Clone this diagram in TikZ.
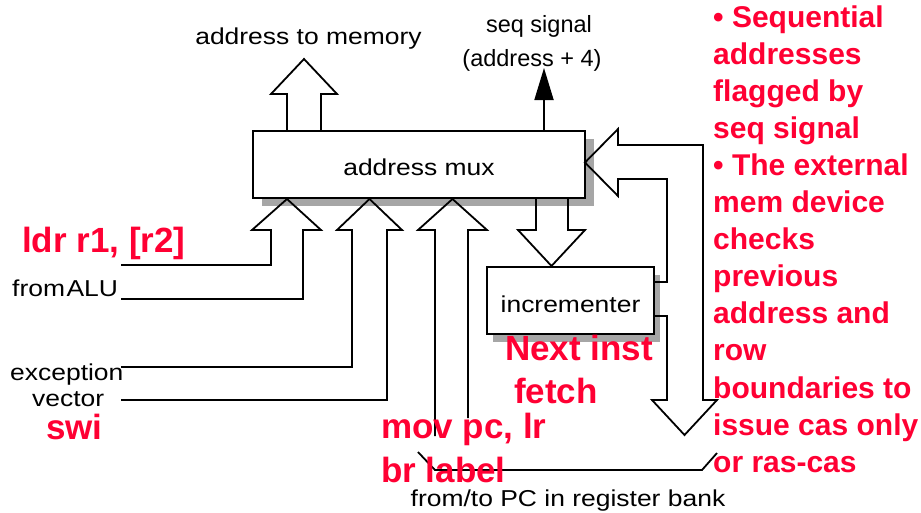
\documentclass[tikz,border=0pt]{standalone}
\usepackage{fontspec}
\setmainfont{Liberation Sans}
\newfontfamily\blkfont[FakeStretch=1.15]{Liberation Sans}
\usetikzlibrary{arrows.meta}
\definecolor{slidered}{RGB}{255,0,51}
\tikzset{
  wire/.style={line width=1.8pt, line join=miter},
  box/.style={draw, line width=1.8pt, fill=white, inner sep=0pt,
    font=\blkfont\fontsize{23}{27}\selectfont, text depth=0pt},
  shadowfill/.style={fill=black!35},
  lbl/.style={inner sep=0pt, font=\blkfont\fontsize{23}{27}\selectfont},
  seqlbl/.style={inner sep=0pt, font=\fontsize{23.5}{27}\selectfont},
  note/.style={inner sep=0pt, text=slidered, font=\bfseries\fontsize{35}{40}\selectfont},
  side/.style={inner sep=0pt, text=slidered, font=\bfseries\fontsize{30}{37}\selectfont},
}
\begin{document}
\begin{tikzpicture}[x=1pt,y=-1pt]
\useasboundingbox (0,0) rectangle (921,512);
% shadows
\fill[shadowfill] (262,139) rectangle (594,206);
\fill[shadowfill] (493,275) rectangle (660,342);
% boxes
\node[box, minimum width=332pt, minimum height=67pt, text height=22.4pt] (mux) at (419,164.5) {address mux};
\node[box, minimum width=167pt, minimum height=67pt, text height=24.4pt] (inc) at (570.5,300.5) {incrementer};
% address to memory (hollow arrow up)
\draw[wire] (287,131) -- (287,94) -- (271,94) -- (304,59) -- (337,94) -- (321,94) -- (321,131);
% seq signal
\draw[line width=1.8pt, -{Triangle[length=32pt,width=19pt]}] (544,131) -- (544,68);
% inputs into the mux
\draw[wire] (121,265) -- (271,265) -- (271,230) -- (252,230) -- (287,199) -- (321,230) -- (303,230) -- (303,299) -- (121,299);
\draw[wire] (121,367) -- (352,367) -- (352,230) -- (337,230) -- (369.5,199) -- (402,230) -- (387,230) -- (387,400) -- (121,400);
\draw[wire] (435,436) -- (435,230) -- (418,230) -- (452.5,199) -- (487,230) -- (468,230) -- (468,418);
% mux to incrementer
\draw[wire] (536,198) -- (536,230) -- (518,230) -- (551.5,266) -- (585,230) -- (568,230) -- (568,198);
% loop on the right
\draw[wire] (654,282) -- (667,282) -- (667,179) -- (618,179) -- (618,196) -- (585,162.5) -- (618,129) -- (618,145) -- (703,145) -- (703,400) -- (717,400) -- (684.5,435) -- (652,400) -- (667,400) -- (667,316) -- (654,316);
% bottom bus
\draw[wire] (418,452) -- (435,470) -- (702,470) -- (717,453);
% black labels
\node[lbl, anchor=base] (lmem) at (308.5,44.3) {address to memory};
\node[seqlbl, anchor=base] (lseq1) at (539,32) {seq signal};
\node[seqlbl, anchor=base] (lseq2) at (532,66) {(address + 4)};
\node[lbl, anchor=base west] (lalu) at (12,296.7) {from\kern1.5pt ALU};
\node[lbl, anchor=base west] (lexc1) at (10,380) {exception};
\node[lbl, anchor=base west] (lexc2) at (32,406.7) {vector};
\node[lbl, anchor=base] (lpc) at (568,506.7) {from/to PC in register bank};
% red notes
\node[note, anchor=base west] (nldr) at (22,252) {ldr r1, [r2]};
\node[note, anchor=base west] (nswi) at (46,439) {swi};
\node[note, anchor=base west] (nnext) at (505,360) {Next inst};
\node[note, anchor=base west] (nfetch) at (514,403) {fetch};
\node[note, anchor=base west] (nmov) at (381,438) {mov pc, lr};
\node[note, anchor=base west] (nbr) at (381,482) {br label};
% right column
\foreach \t [count=\i from 0] in {{• Sequential},{addresses},{flagged by},{seq signal},{• The external},{mem device},{checks},{previous},{address and},{row},{boundaries to},{issue cas only},{or ras-cas}}
  \node[side, anchor=base west] (side\i) at (713,27+37.1*\i) {\t};
\end{tikzpicture}
\end{document}
